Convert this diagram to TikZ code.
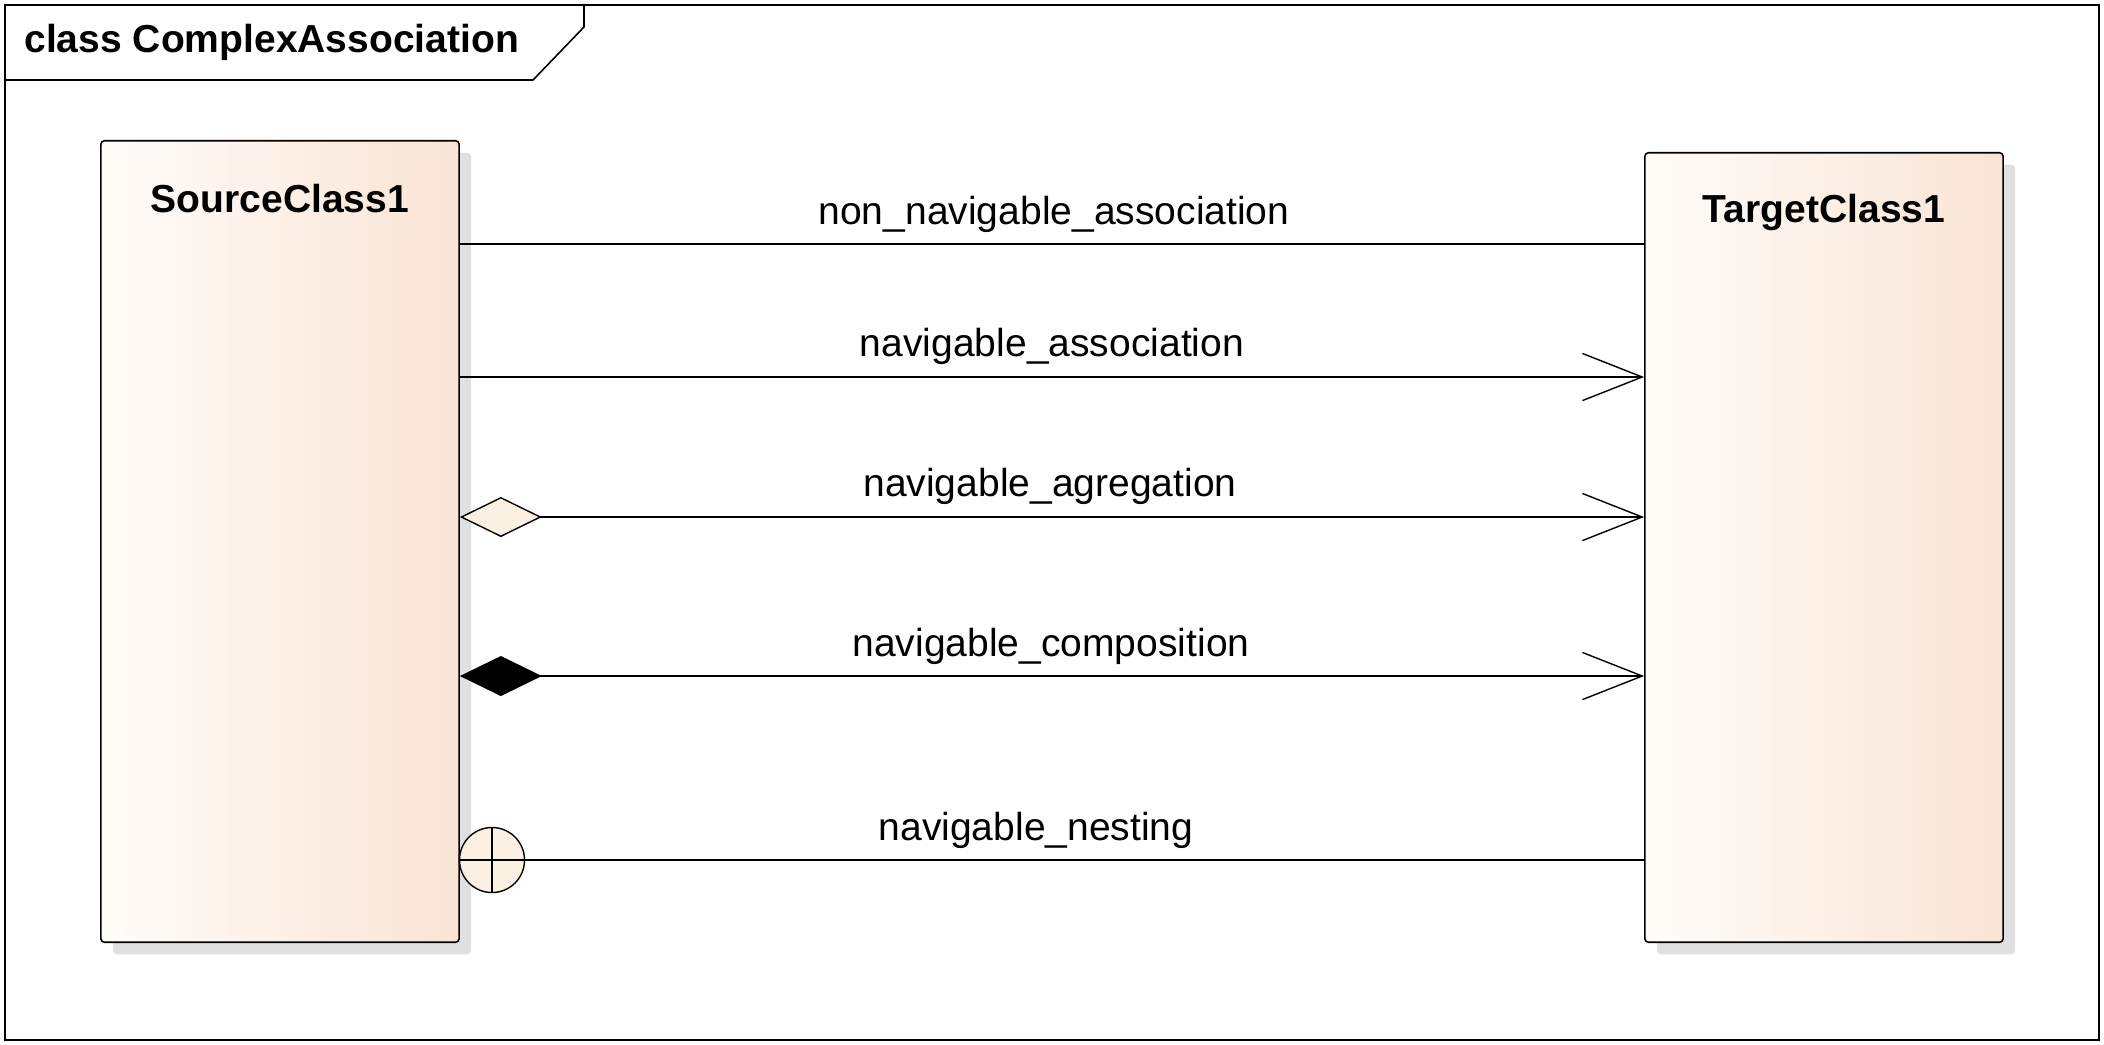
\documentclass[tikz,border=0pt]{standalone}
\usepackage{fontspec}
\setmainfont{Liberation Sans}
\usetikzlibrary{arrows.meta, shadows}
\usepackage{xcolor}
\definecolor{classleft}{RGB}{255,252,249}
\definecolor{classright}{RGB}{249,228,213}
\definecolor{cream}{RGB}{251,241,227}

\begin{document}
\begin{tikzpicture}[x=0.01cm, y=-0.01cm,
    every node/.style={font=\fontsize{11.1pt}{13pt}\selectfont},
    classbox/.style={draw, line width=0.45pt, rounded corners=1pt, left color=classleft, right color=classright,
        inner sep=0pt, minimum width=3.58cm,
        drop shadow={shadow xshift=0.12cm, shadow yshift=-0.12cm, fill=black!12, opacity=1}},
    classname/.style={font=\fontsize{11.1pt}{13pt}\selectfont\bfseries},
    assoclabel/.style={inner sep=0pt},
    navtip/.style={-{Straight Barb[length=17pt, width=13.4pt]}},
    diamondtip/.style={{Diamond[length=23.3pt, width=11.4pt, fill=#1]}-{Straight Barb[length=17pt, width=13.4pt]}}]
        \useasboundingbox (0,0) rectangle (2104,1044);

        % Frame with title tab
        \draw[line width=0.45pt] (5,5) rectangle (2099,1040);
        \draw[line width=0.45pt] (5,80) -- (533,80) -- (584,27) -- (584,5);
        \node[classname, anchor=west] (title) at (12,42) {class ComplexAssociation};

        % Source and target classes
        \node[classbox, minimum height=8.01cm] (src) at (280,541.5) {};
        \node[classname] (srcname) at (280,199) {SourceClass1};
        \node[classbox, minimum height=7.89cm] (tgt) at (1824,547.5) {};
        \node[classname] (tgtname) at (1824,212) {TargetClass1};

        % First row: plain association
        \draw (src.east |- 0,244) -- (tgt.west |- 0,244);
        \node[assoclabel] (l1) at (1054,214) {non\_navigable\_association};

        % Second row: navigable association
        \draw[navtip] (src.east |- 0,377) -- (tgt.west |- 0,377);
        \node[assoclabel] (l2) at (1052,346) {navigable\_association};

        % Third row: aggregation (hollow diamond)
        \draw[diamondtip=cream] (src.east |- 0,517) -- (tgt.west |- 0,517);
        \node[assoclabel] (l3) at (1050,486) {navigable\_agregation};

        % Fourth row: composition (filled diamond)
        \draw[diamondtip=black] (src.east |- 0,676) -- (tgt.west |- 0,676);
        \node[assoclabel] (l4) at (1051,646) {navigable\_composition};

        % Fifth row: nesting (circle with cross)
        \node[draw, circle, fill=cream, minimum size=0.65cm, inner sep=0pt] (nest) at (492,860) {};
        \draw (nest.north) -- (nest.south);
        \draw (nest.west) -- (nest.east);
        \draw (nest.east) -- (tgt.west |- nest.east);
        \node[assoclabel] (l5) at (1036,830) {navigable\_nesting};
    \end{tikzpicture}
\end{document}
